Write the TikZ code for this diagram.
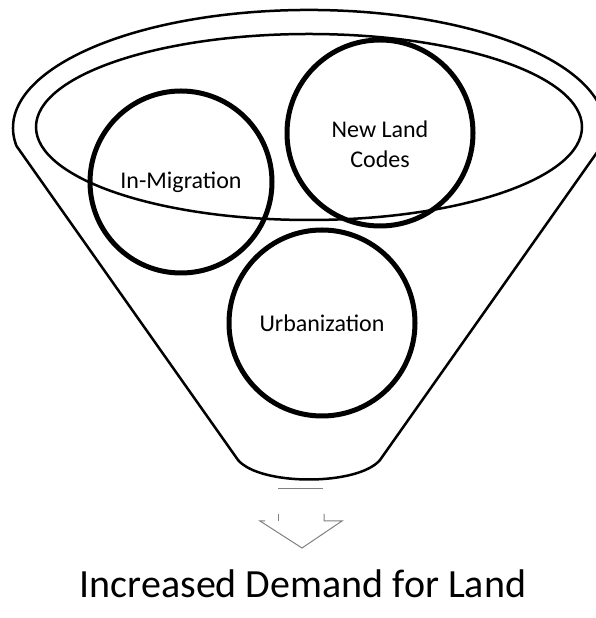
\documentclass[tikz,border=0pt]{standalone}
\usepackage{fontspec}
\setmainfont{Carlito}
\usetikzlibrary{positioning}

\begin{document}
\begin{tikzpicture}[x=1pt,y=1pt,
  rim/.style={line width=2.5pt},
  factor/.style={draw,circle,line width=5pt,minimum size=186pt,
    font=\fontsize{24}{30}\selectfont,align=center},
  faded/.style={draw=black!50,line width=1pt}]
\useasboundingbox (0,0) rectangle (596,618);

% funnel body and rim
\draw[rim] (16.5,472) arc[start angle=188.8,end angle=-8.8,x radius=296,y radius=118]
  -- (380,158) .. controls (358,132) and (260,132) .. (238,158) -- cycle;
\draw[rim] (309,491) ellipse [x radius=273,y radius=93];

% the three drivers
\node[factor,minimum size=182pt] (migration) at (181,436) {In-Migration};
\node[factor] (codes) at (380,485) {};
\node[font=\fontsize{24}{30}\selectfont,align=center] (codestext)
  at ([yshift=-11pt]codes.center) {New Land\\Codes};
\node[factor] (urban) at (322,295) {Urbanization};

% outflow arrow
\coordinate (shaftL) at (278,129);
\coordinate (shaftR) at (323,129);
\coordinate (tip) at (302,70);
\draw[faded] (shaftL) -- (shaftR);
\draw[faded] (278,104) -- (278,97);
\draw[faded] (324,104) -- (324,97) -- (342,97) -- (tip) -- (260,97) -- (265,97);

\node[anchor=base,font=\fontsize{40}{48}\selectfont] (demand) at (303,20)
  {Increased Demand for Land};
\end{tikzpicture}
\end{document}
